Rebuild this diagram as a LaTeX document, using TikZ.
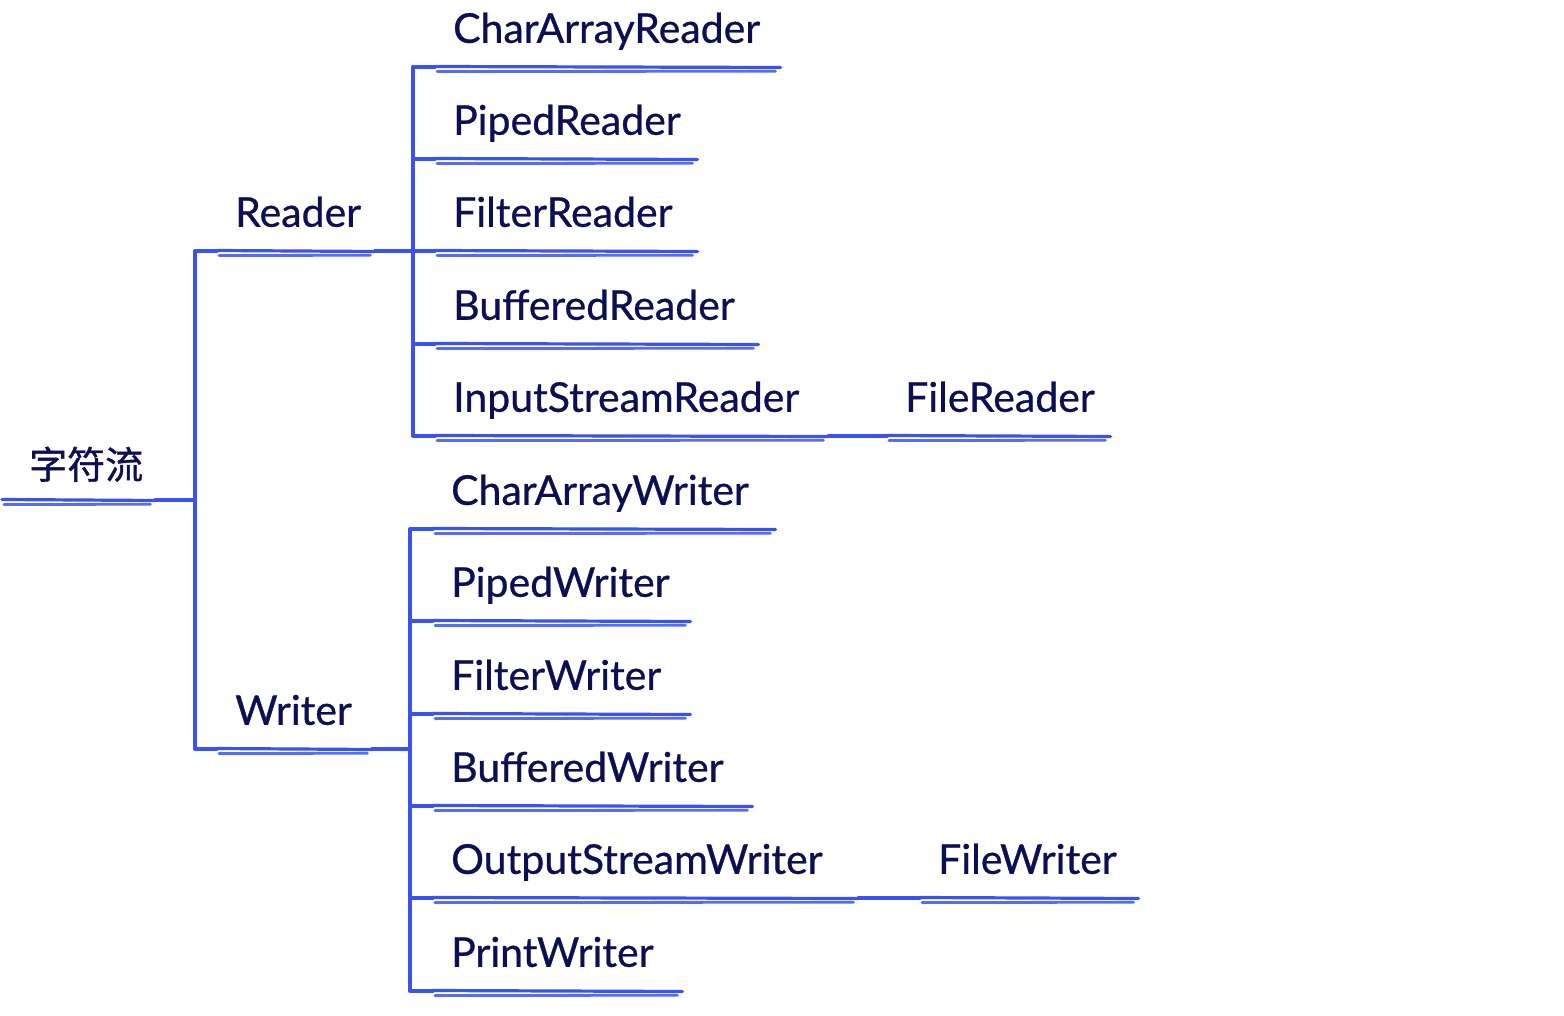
\documentclass[tikz,border=0pt]{standalone}
\usepackage{fontspec}
\setmainfont{Lato}[UprightFeatures={FakeBold=0.7}]
\newfontfamily\cjk{Noto Sans CJK SC}[UprightFeatures={FakeBold=1}]
\usetikzlibrary{calc}
\definecolor{ink}{RGB}{12,16,82}
\definecolor{lineblue}{RGB}{58,82,238}
\newcommand\itm[2]{\hbox to #1pt{\hspace{18pt}#2\hfil}}
\newcommand\sketchul[1]{%
  \draw[blueline] ($(#1.south west)+(0,-0.5)$) -- ($(#1.south east)+(0,0.5)$);
  \draw[blueline, line width=2.8pt, opacity=.85] ($(#1.south west)+(2,4.6)$) -- ($(#1.south east)+(-5,4.2)$);}
\begin{document}
\begin{tikzpicture}[x=1pt,y=-1pt,
  item/.style={anchor=south west, inner sep=0pt, text depth=24pt, text height=32pt,
    font=\fontsize{41}{46}\selectfont, text=ink},
  blueline/.style={draw=lineblue, line width=3.2pt, line cap=round, line join=round},
  conn/.style={blueline, line width=3.3pt}]
\useasboundingbox (0,0) rectangle (1564,1016);

\coordinate (v1) at (195,0);
\coordinate (v2) at (413,0);
\coordinate (v3) at (410,0);

% root
\node[item, text depth=21pt, font=\cjk\fontsize{38}{42}\selectfont] (root) at (2,500)
  {\hbox to 153pt{\hspace{27pt}字符流\hfil}};

% level 1
\node[item] (reader) at (217,251) {\itm{158}{Reader}};
\node[item] (writer) at (217,749) {\itm{155}{Writer}};

% Reader children
\node[item] (r1) at (435,67)  {\itm{345}{CharArrayReader}};
\node[item] (r2) at (435,159) {\itm{262}{PipedReader}};
\node[item] (r3) at (435,251) {\itm{262}{FilterReader}};
\node[item] (r4) at (435,344) {\itm{323}{BufferedReader}};
\node[item] (r5) at (435,436) {\itm{393}{InputStreamReader}};
\node[item] (fr) at (887,436) {\itm{223}{FileReader}};

% Writer children
\node[item] (w1) at (433,529) {\itm{342}{CharArrayWriter}};
\node[item] (w2) at (433,621) {\itm{257}{PipedWriter}};
\node[item] (w3) at (433,714) {\itm{257}{FilterWriter}};
\node[item] (w4) at (433,806) {\itm{319}{BufferedWriter}};
\node[item] (w5) at (433,898) {\itm{425}{OutputStreamWriter}};
\node[item] (w6) at (433,991) {\itm{249}{PrintWriter}};
\node[item] (fw) at (920,898) {\itm{218}{FileWriter}};

% underlines
\foreach \n in {root,reader,writer,r1,r2,r3,r4,r5,fr,w1,w2,w3,w4,w5,w6,fw}{\sketchul{\n}}

% connectors
\foreach \c in {reader,writer}
  \draw[conn] (root.south east) -- (root.south east -| v1) |- (\c.south west);
\foreach \c in {r1,r2,r3,r4,r5}
  \draw[conn] (reader.south east) -- (reader.south east -| v2) |- (\c.south west);
\foreach \c in {w1,w2,w3,w4,w5,w6}
  \draw[conn] (writer.south east) -- (writer.south east -| v3) |- (\c.south west);
\draw[conn] (r5.south east) -- (fr.south west);
\draw[conn] (w5.south east) -- (fw.south west);
\end{tikzpicture}
\end{document}
